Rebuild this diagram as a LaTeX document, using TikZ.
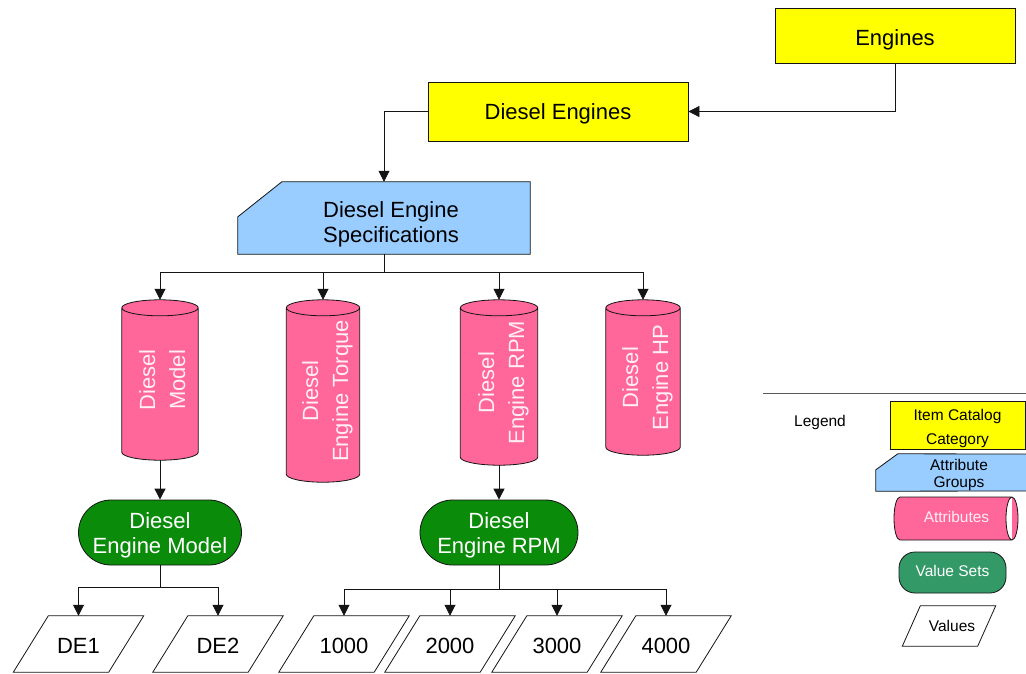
\documentclass[tikz,border=0pt]{standalone}
\usepackage{fontspec}
\setmainfont{Liberation Sans}
\usepackage{graphicx}
\usetikzlibrary{arrows.meta,shapes.misc,backgrounds,calc}
\definecolor{catyel}{RGB}{255,255,0}
\definecolor{grpblue}{RGB}{153,204,255}
\definecolor{attpink}{RGB}{255,102,153}
\definecolor{atttext}{RGB}{255,238,246}
\definecolor{vsgreen}{RGB}{10,140,10}
\definecolor{vslgreen}{RGB}{51,153,102}
\definecolor{edge}{RGB}{20,20,20}
\newcommand\cylvshape[1]{%
  \path let \p1=(#1.north west), \p2=(#1.south east), \n1={(\x2-\x1)/2} in
    [cylshape]
    (\x1,\y1-8pt) -- (\x1,\y2+8pt)
      arc[start angle=180,end angle=360,x radius={\n1*1pt},y radius=8pt]
      -- (\x2,\y1-8pt)
      arc[start angle=0,end angle=180,x radius={\n1*1pt},y radius=8pt] -- cycle
    (\x1,\y1-8pt) arc[start angle=180,end angle=360,x radius={\n1*1pt},y radius=8pt];}
\newcommand\parashape[2]{%
  \draw[valshape] ($(#1.north west)+(#2/2,0)$) -- ($(#1.north east)+(#2/2,0)$)
    -- ($(#1.south east)-(#2/2,0)$) -- ($(#1.south west)-(#2/2,0)$) -- cycle;}
\newcommand\tx[2][3pt]{\raisebox{-#1}[\height][\depth]{\begin{tabular}{@{}c@{}}#2\end{tabular}}}
\newcommand\cyltxt[2]{\rotatebox{90}{\raisebox{-4pt}[\height][\depth]{\renewcommand\arraystretch{1.2}\begin{tabular}{@{}c@{}}#1\\#2\end{tabular}}}}
\begin{document}
\begin{tikzpicture}[x=1pt,y=1pt,
  every node/.style={font=\fontsize{22}{25}\selectfont, inner sep=0pt},
  legfont/.style={font=\fontsize{15.5}{18}\selectfont},
  arr/.style={-{Triangle[length=11pt,width=11pt]}, line width=0.8pt, draw=edge},
  conn/.style={line width=0.8pt, draw=edge},
  catbox/.style={draw=edge, fill=catyel, line width=0.8pt},
  grpshape/.style={draw=edge, fill=grpblue, line width=0.8pt},
  cylshape/.style={draw=edge, fill=attpink, line width=0.8pt},
  cyltext/.style={text=atttext},
  vsbox/.style={rounded rectangle, draw=edge, fill=vsgreen, line width=0.8pt, text=white},
  valshape/.style={draw=edge, fill=white, line width=0.8pt},
  valnode/.style={minimum width=95, minimum height=56}
]
\useasboundingbox (0,0) rectangle (1026,-673);

% category boxes
\node[catbox, minimum width=240, minimum height=55] (eng) at (895,-36) {\tx[4pt]{Engines}};
\node[catbox, minimum width=260, minimum height=59] (de) at (558,-111.5) {\tx[2.5pt]{Diesel Engines}};

% attribute group
\node[minimum width=292, minimum height=72] (spec) at (384,-218) {\tx[6.5pt]{\hspace*{14pt}Diesel Engine\\\hspace*{14pt}Specifications}};

% attributes
\node[cyltext, minimum width=76, minimum height=160] (c1) at (160,-380) {\cyltxt{Diesel}{Model}};
\node[cyltext, minimum width=73, minimum height=182] (c2) at (323,-391) {\cyltxt{Diesel}{Engine Torque}};
\node[cyltext, minimum width=77, minimum height=165] (c3) at (499,-382.5) {\cyltxt{Diesel}{Engine RPM}};
\node[cyltext, minimum width=74, minimum height=155] (c4) at (643,-377.5) {\cyltxt{Diesel}{Engine HP}};

% value sets
\node[vsbox, minimum width=163, minimum height=65] (vs1) at (160,-532.5) {\tx[3.5pt]{Diesel\\Engine Model}};
\node[vsbox, minimum width=158, minimum height=65] (vs2) at (499,-532.5) {\tx[3.5pt]{Diesel\\Engine RPM}};

% values
\node[valnode] (v1) at (78.5,-644) {\tx[4pt]{DE1}};
\node[valnode] (v2) at (218,-644) {\tx[4pt]{DE2}};
\node[valnode] (v3) at (344,-644) {\tx[4pt]{1000}};
\node[valnode] (v4) at (450,-644) {\tx[4pt]{2000}};
\node[valnode] (v5) at (557,-644) {\tx[4pt]{3000}};
\node[valnode] (v6) at (666,-644) {\tx[4pt]{4000}};

% legend
\node[legfont] (leg) at (820,-422) {\tx[1pt]{Legend}};
\node[catbox, minimum width=135, minimum height=45, font=\fontsize{15.5}{24}\selectfont] (lcat) at (957.5,-425.5) {\tx[2pt]{Item Catalog\\Category}};
\node[minimum width=150, minimum height=37, font=\fontsize{15.5}{17}\selectfont] (lgrp) at (951,-472.5) {\tx[3pt]{\hspace*{16pt}Attribute\\\hspace*{16pt}Groups}};
\node[legfont, cyltext, minimum width=123, minimum height=43] (latt) at (956.5,-518.5) {\tx[0pt]{Attributes}};
\node[legfont, draw=edge, fill=vslgreen, line width=0.8pt, text=white, rounded corners=16pt, minimum width=107, minimum height=41] (lvs) at (952.5,-572.5) {\tx[0pt]{Value Sets}};
\node[legfont, minimum width=75, minimum height=40] (lval) at (949,-626) {\tx[2pt]{\hspace*{6pt}Values}};

\begin{pgfonlayer}{background}
  \draw[grpshape] ($(spec.north west)+(44,0)$) -- (spec.north east) -- (spec.south east)
    -- (spec.south west) -- ($(spec.north west)+(0,-35)$) -- cycle;
  \cylvshape{c1}\cylvshape{c2}\cylvshape{c3}\cylvshape{c4}
  \parashape{v1}{35}\parashape{v2}{35}\parashape{v3}{35}
  \parashape{v4}{35}\parashape{v5}{35}\parashape{v6}{35}
  \parashape{lval}{18}
  % legend attribute group (runs off the right edge)
  \fill[grpblue] ($(lgrp.north west)+(22,0)$) -- (1026,-454) -- (1026,-491)
    -- (lgrp.south west) -- ($(lgrp.north west)+(0,-16)$) -- cycle;
  \draw[conn] (1026,-454) -- ($(lgrp.north west)+(22,0)$) -- ($(lgrp.north west)+(0,-16)$)
    -- (lgrp.south west) -- (1026,-491);
  % legend attribute cylinder (horizontal)
  \draw[cylshape] (900,-497) -- (1012,-497)
    arc[start angle=90,end angle=-90,x radius=6,y radius=21.5] -- (900,-540)
    arc[start angle=270,end angle=90,x radius=6,y radius=21.5] -- cycle
    (1012,-497) arc[start angle=90,end angle=270,x radius=6,y radius=21.5];
\end{pgfonlayer}

% legend separator
\draw[line width=0.8pt, draw=black!65] (763,-393) -- (1026,-393);

% connectors
\draw[arr] (eng.south) |- (de.east);
\draw[arr] (de.west) -| (spec.north);
\coordinate (b1) at (384,-272);
\draw[conn] (spec.south) -- (b1);
\draw[arr] (b1) -| (c1.north);
\draw[arr] (b1) -| (c2.north);
\draw[arr] (b1) -| (c3.north);
\draw[arr] (b1) -| (c4.north);
\draw[arr] (c1.south) -- (vs1.north);
\draw[arr] (c3.south) -- (vs2.north);
\coordinate (b2) at (160,-587);
\draw[conn] (vs1.south) -- (b2);
\draw[arr] (b2) -| (v1.north);
\draw[arr] (b2) -| (v2.north);
\coordinate (b3) at (499,-589);
\draw[conn] (vs2.south) -- (b3);
\draw[arr] (b3) -| (v3.north);
\draw[arr] (b3) -| (v4.north);
\draw[arr] (b3) -| (v5.north);
\draw[arr] (b3) -| (v6.north);
\end{tikzpicture}
\end{document}
